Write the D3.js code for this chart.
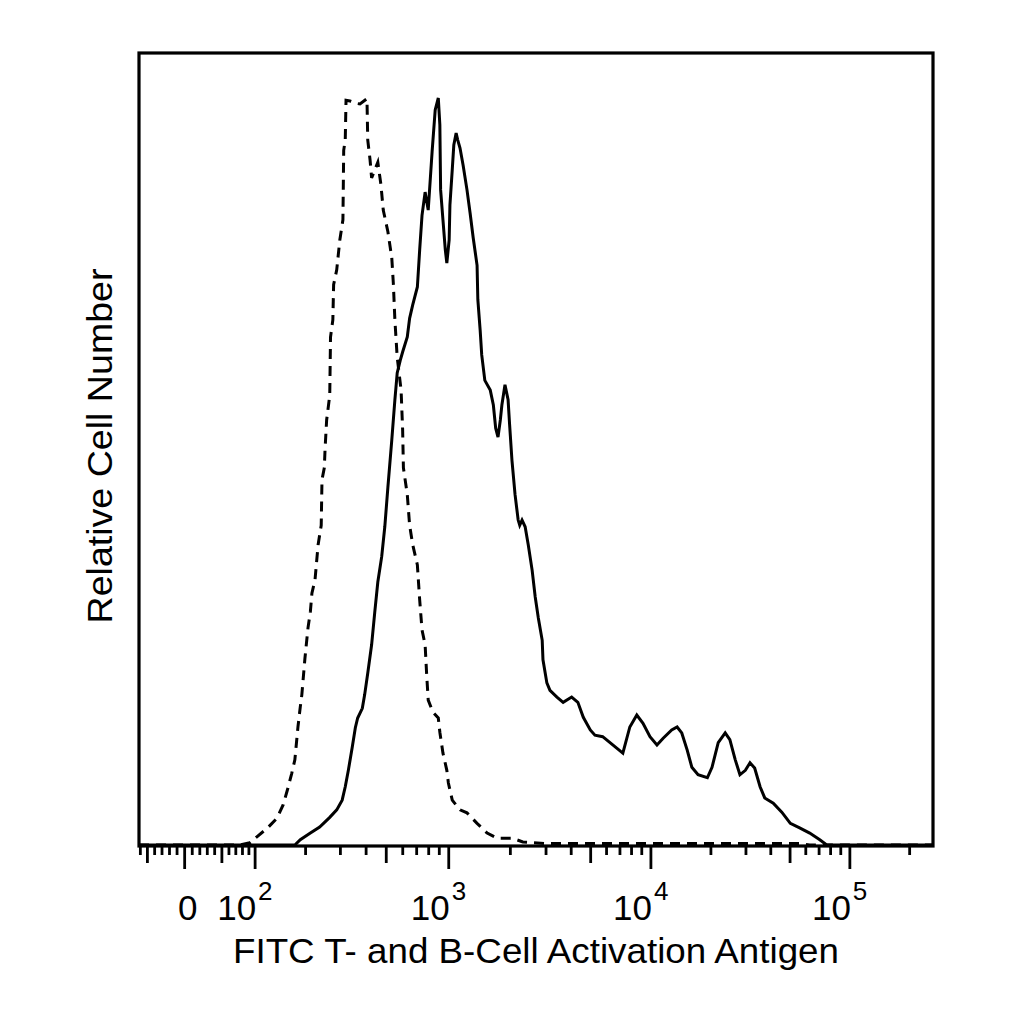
<!DOCTYPE html>
<html>
<head>
<meta charset="utf-8">
<script src="https://cdn.jsdelivr.net/npm/d3@7"></script>
<style>
  html, body { margin: 0; padding: 0; background: #fff; }
  svg { display: block; }
  text { font-family: "Liberation Sans", Arial, sans-serif; fill: #000; }
</style>
</head>
<body>
<svg id="chart" width="1024" height="1024"></svg>
<script>
// ---- Data (histogram on 1024-channel logicle display scale; y = % of max) ----
const isotypeChannel = [0,130,143,152,166,178,186,192,197,201,205,208,210,214,218,221,223,227,231,235,236,239,240,242,246,247,250,251,255,259,263,264,266,267,272,279,285,294,295,298,300,308,312,315,321,326,328,330,333,338,340,341,346,349,353,359,362,365,369,371,373,379,386,388,392,397,399,404,414,423,436,449,462,482,495,524,852,865,1024];
const isotypeCount   = [0,0,0.3,1.1,2.3,3.6,5.4,7.6,9.6,11.4,15.8,18.5,20.1,25.0,29.1,31.2,33.7,35.5,40.2,42.8,48.9,50.5,53.1,56.9,60.2,68.0,70.3,75.0,77.0,81.0,83.7,93.0,94.4,99.7,99.6,99.3,99.2,99.9,94.4,91.7,89.3,91.4,88.4,85.0,82.1,78.6,75.2,70.3,65.3,60.9,55.6,50.5,46.9,42.8,40.2,37.5,32.8,28.8,26.8,22.8,19.4,17.8,17.0,15.1,12.3,10.0,8.3,6.0,4.7,4.3,2.9,1.6,0.9,0.9,0.4,0.2,0.2,0,0];

const stainedChannel = [0,201,208,221,233,246,255,262,266,270,275,279,282,288,291,295,300,304,308,313,317,321,326,330,333,337,340,346,349,353,359,362,365,369,373,378,382,386,388,389,392,395,397,400,401,404,406,409,411,414,418,423,427,431,436,437,440,442,446,453,457,460,463,466,468,472,476,478,481,485,489,491,494,498,502,507,511,515,520,521,526,530,539,547,558,566,573,582,588,598,611,624,633,642,650,659,668,676,687,694,700,707,713,721,733,739,747,756,762,769,775,782,788,794,801,807,818,829,840,852,865,878,887,1024];
const stainedCount   = [0,0,0.7,1.6,2.4,3.7,4.7,6.0,7.8,10.0,13.1,15.7,17.0,18.3,20.1,23.0,26.8,31.1,35.2,38.6,42.6,47.9,54.2,59.6,63.2,64.9,66.0,68.0,70.5,72.3,74.7,79.7,84.3,87.4,85.0,92.8,98.4,100,96.4,87.7,83.7,79.7,77.9,81.0,85.7,90.4,93.7,95.3,94.4,93.3,91.0,87.7,84.6,81.3,77.6,73.0,68.9,65.6,62.2,60.9,58.9,55.8,54.6,56.9,58.9,61.6,59.6,56.2,51.5,46.9,43.5,42.8,43.5,42.6,40.2,36.8,33.2,30.4,27.4,24.8,21.7,20.7,19.8,19.1,19.8,19.1,17.1,15.4,14.7,14.5,13.4,12.3,15.8,17.4,16.3,14.5,13.4,14.3,15.4,15.8,15.0,12.7,10.4,9.4,9.0,10.4,13.7,15.0,14.1,11.4,9.4,10.0,11.0,10.3,7.8,6.3,5.6,4.4,2.9,2.3,1.6,0.7,0,0];

// ---- Axis ticks / labels ----
const majorTicks = [0, 1e2, 1e3, 1e4, 1e5];
const majorLabels = [
  {value: 0, base: "0", exp: ""},
  {value: 1e2, base: "10", exp: "2"},
  {value: 1e3, base: "10", exp: "3"},
  {value: 1e4, base: "10", exp: "4"},
  {value: 1e5, base: "10", exp: "5"}
];
const minorMultipliers = [2, 3, 4, 5, 6, 7, 8, 9];
const minorDecades = [10, 100, 1000, 10000, 100000];
const negativeTicks = [-10, -20, -30, -40, -50, -60];
const xTitle = "FITC T- and B-Cell Activation Antigen";
const yTitle = "Relative Cell Number";

// ---- Logicle transform (T, M, W) ----
const LT = 262144, LM = 4, LW = 0.23;
const wN = LW * Math.LN10, mN = LM * Math.LN10;
const pL = (function () {
  let lo = 1.000001, hi = 20;
  for (let i = 0; i < 200; i++) {
    const mid = (lo + hi) / 2;
    const val = 2 * mid * Math.log(mid) / (mid + 1);
    if (val < wN) lo = mid; else hi = mid;
  }
  return (lo + hi) / 2;
})();
function logicleS(xv) {
  if (xv >= wN) {
    return LT * Math.exp(-(mN - wN)) * (Math.exp(xv - wN) - pL * pL * Math.exp(-(xv - wN) / pL) + pL * pL - 1);
  }
  return -logicleS(2 * wN - xv);
}
function logicleChannel(v) {
  let lo = -mN, hi = mN * 1.5;
  for (let i = 0; i < 200; i++) {
    const mid = (lo + hi) / 2;
    if (logicleS(mid) < v) lo = mid; else hi = mid;
  }
  return ((lo + hi) / 2) / mN * 1024;
}

// ---- Layout ----
const plotLeft = 139, plotRight = 933, plotTop = 53, plotBottom = 846;
const svg = d3.select("#chart");
const xs = d3.scaleLinear().domain([0, 1024]).range([plotLeft, plotRight]);
const ys = d3.scaleLinear().domain([0, 100]).range([845, 98]);

// Ticks
const tickData = [];
majorTicks.forEach(v => tickData.push({v, len: 23}));
minorDecades.forEach(d => minorMultipliers.forEach(k => {
  const v = k * d;
  if (v < LT) tickData.push({v, len: k === 5 ? 17 : 9});
}));
tickData.push({v: 10, len: 9});
negativeTicks.forEach(v => tickData.push({v, len: v === -50 ? 17 : 9}));

const ticksG = svg.append("g");
tickData.forEach(t => {
  const cx = xs(logicleChannel(t.v));
  if (cx < plotLeft || cx > plotRight) return;
  ticksG.append("line")
    .attr("x1", cx).attr("x2", cx)
    .attr("y1", plotBottom).attr("y2", plotBottom + t.len)
    .attr("stroke", "#000").attr("stroke-width", 2.8);
});

// Tick labels
majorLabels.forEach(l => {
  const cx = xs(logicleChannel(l.value));
  if (l.exp === "") {
    svg.append("text").attr("x", cx + 3).attr("y", 920)
      .attr("text-anchor", "middle").attr("font-size", 35).text(l.base);
  } else {
    svg.append("text").attr("x", cx + 1).attr("y", 920)
      .attr("text-anchor", "end").attr("font-size", 35).text(l.base);
    svg.append("text").attr("x", cx + 3).attr("y", 900)
      .attr("text-anchor", "start").attr("font-size", 26).text(l.exp);
  }
});

// Curves
const line = d3.line().x(d => xs(d[0])).y(d => ys(d[1]));
const isoPts = isotypeChannel.map((c, i) => [c, isotypeCount[i]]);
const stPts = stainedChannel.map((c, i) => [c, stainedCount[i]]);

svg.append("path").datum(isoPts).attr("d", line)
  .attr("fill", "none").attr("stroke", "#000").attr("stroke-width", 3)
  .attr("stroke-dasharray", "10,7");
svg.append("path").datum(stPts).attr("d", line)
  .attr("fill", "none").attr("stroke", "#000").attr("stroke-width", 3);

// Frame
svg.append("rect").attr("x", plotLeft).attr("y", plotTop)
  .attr("width", plotRight - plotLeft).attr("height", plotBottom - plotTop)
  .attr("fill", "none").attr("stroke", "#000").attr("stroke-width", 3.2);

// Axis titles
svg.append("text").attr("x", 536).attr("y", 963).attr("text-anchor", "middle")
  .attr("font-size", 35).attr("textLength", 606).attr("lengthAdjust", "spacingAndGlyphs")
  .text(xTitle);
svg.append("text").attr("transform", "translate(112,446) rotate(-90)")
  .attr("text-anchor", "middle").attr("font-size", 35)
  .attr("textLength", 355).attr("lengthAdjust", "spacingAndGlyphs")
  .text(yTitle);
</script>
</body>
</html>
